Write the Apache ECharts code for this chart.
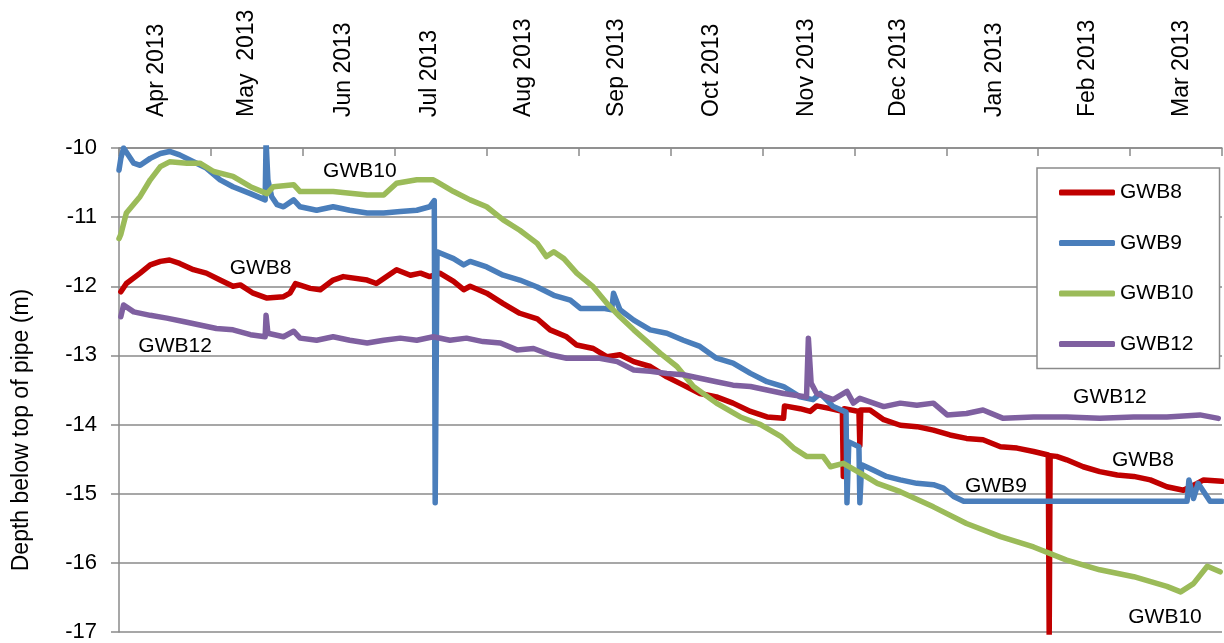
<!DOCTYPE html>
<html><head><meta charset="utf-8">
<script src="https://cdn.jsdelivr.net/npm/echarts@6/dist/echarts.min.js"></script>
<style>html,body{margin:0;padding:0;background:#fff}#c{width:1224px;height:643px}</style>
</head><body><div id="c"></div>
<script>
// Month tick labels (as printed on the original chart) and where each label sits (in months)
const monthLabels = ['Apr 2013','May  2013','Jun 2013','Jul 2013','Aug 2013','Sep 2013','Oct 2013','Nov 2013','Dec 2013','Jan 2013','Feb 2013','Mar 2013'];
const monthLabelPos = [0.53,1.51,2.57,3.50,4.53,5.54,6.57,7.61,8.61,9.65,10.66,11.69];
const seriesNames = ['GWB8','GWB9','GWB10','GWB12'];
const yTicks = [-17,-16,-15,-14,-13,-12,-11,-10];

// [months since start of Apr 2013, depth (m)]
const gwb8 = [[0.02,-12.08],[0.08,-11.96],[0.23,-11.81],[0.34,-11.69],[0.45,-11.64],[0.55,-11.62],[0.66,-11.67],[0.81,-11.76],[0.95,-11.81],[1.10,-11.91],[1.24,-12.00],[1.32,-11.98],[1.46,-12.10],[1.61,-12.17],[1.79,-12.15],[1.86,-12.10],[1.92,-11.96],[2.08,-12.03],[2.19,-12.05],[2.33,-11.91],[2.44,-11.86],[2.70,-11.91],[2.80,-11.96],[3.02,-11.76],[3.17,-11.84],[3.28,-11.81],[3.38,-11.86],[3.49,-11.81],[3.64,-11.93],[3.75,-12.05],[3.82,-12.00],[4.00,-12.10],[4.18,-12.25],[4.36,-12.39],[4.55,-12.47],[4.69,-12.63],[4.87,-12.73],[4.98,-12.85],[5.16,-12.90],[5.31,-13.02],[5.45,-12.99],[5.60,-13.09],[5.78,-13.16],[5.96,-13.31],[6.14,-13.43],[6.32,-13.55],[6.50,-13.60],[6.68,-13.69],[6.87,-13.81],[7.05,-13.89],[7.23,-13.91],[7.24,-13.73],[7.41,-13.77],[7.52,-13.81],[7.59,-13.73],[7.74,-13.77],[7.87,-13.81],[7.88,-14.75],[7.89,-13.77],[8.05,-13.81],[8.06,-14.30],[8.07,-13.79],[8.17,-13.79],[8.32,-13.93],[8.50,-14.01],[8.68,-14.03],[8.86,-14.08],[9.04,-14.15],[9.22,-14.20],[9.40,-14.22],[9.59,-14.32],[9.77,-14.34],[9.95,-14.39],[10.11,-14.44],[10.12,-17.05],[10.13,-14.45],[10.20,-14.46],[10.31,-14.51],[10.49,-14.61],[10.67,-14.68],[10.86,-14.73],[11.04,-14.75],[11.22,-14.80],[11.40,-14.90],[11.58,-14.95],[11.73,-14.85],[11.80,-14.80],[12.00,-14.82]];
const gwb9 = [[0.00,-10.32],[0.02,-10.15],[0.05,-10.00],[0.07,-10.02],[0.16,-10.22],[0.23,-10.25],[0.34,-10.15],[0.45,-10.08],[0.55,-10.05],[0.66,-10.10],[0.81,-10.20],[0.95,-10.29],[1.10,-10.46],[1.24,-10.56],[1.43,-10.66],[1.59,-10.75],[1.60,-9.90],[1.62,-10.46],[1.66,-10.70],[1.72,-10.82],[1.79,-10.85],[1.90,-10.75],[1.97,-10.85],[2.15,-10.90],[2.33,-10.85],[2.51,-10.90],[2.70,-10.94],[2.88,-10.94],[3.06,-10.92],[3.24,-10.90],[3.38,-10.85],[3.43,-10.76],[3.44,-15.13],[3.46,-11.50],[3.64,-11.60],[3.75,-11.69],[3.82,-11.64],[4.00,-11.72],[4.18,-11.84],[4.36,-11.91],[4.55,-12.01],[4.73,-12.13],[4.91,-12.20],[5.02,-12.32],[5.27,-12.32],[5.36,-12.34],[5.38,-12.10],[5.45,-12.34],[5.60,-12.49],[5.78,-12.63],[5.96,-12.68],[6.14,-12.78],[6.32,-12.87],[6.50,-13.04],[6.68,-13.11],[6.87,-13.26],[7.05,-13.38],[7.23,-13.45],[7.41,-13.60],[7.55,-13.64],[7.63,-13.55],[7.77,-13.74],[7.91,-13.82],[7.92,-15.13],[7.94,-14.25],[8.05,-14.32],[8.06,-15.13],[8.08,-14.58],[8.21,-14.66],[8.35,-14.75],[8.50,-14.80],[8.68,-14.85],[8.86,-14.87],[8.97,-14.92],[9.08,-15.04],[9.19,-15.11],[11.62,-15.11],[11.64,-14.80],[11.69,-15.07],[11.74,-14.85],[11.87,-15.11],[12.00,-15.11]];
const gwb10 = [[0.00,-11.31],[0.02,-11.25],[0.08,-10.94],[0.23,-10.70],[0.34,-10.46],[0.45,-10.27],[0.55,-10.20],[0.74,-10.22],[0.88,-10.22],[1.03,-10.34],[1.24,-10.41],[1.43,-10.56],[1.61,-10.66],[1.68,-10.56],[1.90,-10.53],[1.97,-10.63],[2.33,-10.63],[2.70,-10.68],[2.88,-10.68],[3.02,-10.51],[3.24,-10.46],[3.42,-10.46],[3.46,-10.49],[3.64,-10.63],[3.82,-10.75],[4.00,-10.85],[4.18,-11.04],[4.36,-11.19],[4.55,-11.38],[4.65,-11.57],[4.73,-11.50],[4.84,-11.60],[4.98,-11.81],[5.16,-12.01],[5.31,-12.25],[5.45,-12.44],[5.60,-12.63],[5.89,-12.97],[6.07,-13.16],[6.25,-13.45],[6.50,-13.69],[6.76,-13.89],[6.98,-14.00],[7.20,-14.17],[7.34,-14.34],[7.48,-14.46],[7.66,-14.46],[7.74,-14.61],[7.88,-14.56],[8.06,-14.70],[8.25,-14.85],[8.50,-14.97],[8.86,-15.19],[9.22,-15.43],[9.59,-15.62],[9.95,-15.77],[10.31,-15.96],[10.67,-16.10],[11.04,-16.20],[11.40,-16.34],[11.55,-16.42],[11.69,-16.30],[11.84,-16.05],[11.98,-16.13]];
const gwb12 = [[0.02,-12.44],[0.05,-12.27],[0.16,-12.37],[0.34,-12.42],[0.52,-12.46],[0.70,-12.51],[0.88,-12.56],[1.06,-12.61],[1.24,-12.63],[1.43,-12.70],[1.59,-12.73],[1.60,-12.42],[1.62,-12.68],[1.79,-12.73],[1.90,-12.65],[1.97,-12.75],[2.15,-12.78],[2.33,-12.73],[2.51,-12.78],[2.70,-12.82],[2.88,-12.78],[3.06,-12.75],[3.24,-12.78],[3.42,-12.73],[3.60,-12.78],[3.78,-12.75],[3.96,-12.80],[4.15,-12.82],[4.33,-12.92],[4.51,-12.90],[4.69,-12.99],[4.87,-13.04],[5.23,-13.04],[5.42,-13.09],[5.60,-13.21],[5.78,-13.23],[5.96,-13.26],[6.14,-13.28],[6.32,-13.33],[6.50,-13.38],[6.68,-13.43],[6.87,-13.45],[7.05,-13.50],[7.23,-13.55],[7.48,-13.60],[7.50,-12.75],[7.53,-13.40],[7.59,-13.55],[7.77,-13.64],[7.92,-13.52],[7.99,-13.69],[8.06,-13.62],[8.32,-13.74],[8.50,-13.69],[8.68,-13.72],[8.86,-13.69],[9.01,-13.86],[9.22,-13.84],[9.40,-13.79],[9.62,-13.91],[9.95,-13.89],[10.31,-13.89],[10.67,-13.91],[11.04,-13.89],[11.40,-13.89],[11.76,-13.86],[11.96,-13.91]];

// In-plot series labels: [text, month, depth]
const lineLabels = [['GWB10',2.62,-10.33],['GWB8',1.54,-11.74],['GWB12',0.61,-12.87],['GWB12',10.78,-13.61],['GWB8',11.14,-14.52],['GWB9',9.54,-14.89],['GWB10',11.38,-16.78]];

const colors = ['#C00000','#4A7EBB','#9BBB59','#7F60A0'];
const allData = [gwb8, gwb9, gwb10, gwb12];
const FONT = '"Liberation Sans", Arial, sans-serif';
const gray = '#8a8a8a';

function labelFor(v) {
  let best = 0;
  monthLabelPos.forEach((p, i) => { if (Math.abs(p - v) < Math.abs(monthLabelPos[best] - v)) best = i; });
  return monthLabels[best];
}

const chart = echarts.init(document.getElementById('c'), null, {renderer:'canvas'});
chart.setOption({
  animation: false,
  backgroundColor: '#fff',
  grid: {left: 119, right: 2, top: 148, bottom: 11, containLabel: false},
  xAxis: [
    {type:'category', position:'top', data: monthLabels, boundaryGap: true, gridIndex:0, offset:0,
     axisLine:{show:true, lineStyle:{color:gray, width:1.5}},
     axisTick:{show:true, inside:true, length:8, lineStyle:{color:gray, width:1.5}},
     axisLabel:{show:false},
     splitLine:{show:false}},
    {type:'value', min:0, max:12, position:'top', gridIndex:0, offset:0,
     axisLine:{show:false}, axisTick:{show:false}, splitLine:{show:false},
     axisLabel:{show:true, customValues: monthLabelPos, formatter: v => labelFor(v),
       rotate:-90, margin:31, fontSize:23, color:'#000', fontFamily:FONT, verticalAlign:'bottom'}}
  ],
  yAxis: {type:'value', min:-17, max:-10, interval:1,
    axisLine:{show:true, lineStyle:{color:gray, width:1.5}},
    axisTick:{show:true, inside:false, length:8, lineStyle:{color:gray, width:1.5}},
    axisLabel:{fontSize:22, color:'#000', fontFamily:FONT, margin:22,
      formatter: v => yTicks.includes(v) ? String(v) : ''},
    splitLine:{show:true, lineStyle:{color:gray, width:1.5}}},
  legend: {show:true, orient:'vertical', left:1037, top:168, data: seriesNames,
    icon:'roundRect', itemWidth:56, itemHeight:6, itemGap:29.5,
    padding:[14,26,14,22], borderColor:gray, borderWidth:1.5, backgroundColor:'#fff',
    textStyle:{fontSize:21, color:'#000', fontFamily:FONT}},
  graphic: [{type:'text', x:22, y:430, rotation:Math.PI/2,
    style:{text:'Depth below top of pipe (m)', font:'23px ' + FONT, fill:'#000', textAlign:'center', textVerticalAlign:'middle'}}],
  series: seriesNames.map((name, i) => ({
    name, type:'line', xAxisIndex:1, yAxisIndex:0, data: allData[i],
    showSymbol:false, symbol:'none', clip:true,
    lineStyle:{color:colors[i], width:5.5, join:'round', cap:'round'},
    itemStyle:{color:colors[i]},
    emphasis:{disabled:true},
    markPoint:{symbol:'circle', symbolSize:0, silent:true,
      label:{show:true, position:'inside', color:'#000', fontSize:21, fontFamily:FONT,
        formatter: p => p.name},
      data: lineLabels.filter(l => l[0] === name).map(l => ({name:l[0], coord:[l[1], l[2]]}))}
  }))
});
</script></body></html>
